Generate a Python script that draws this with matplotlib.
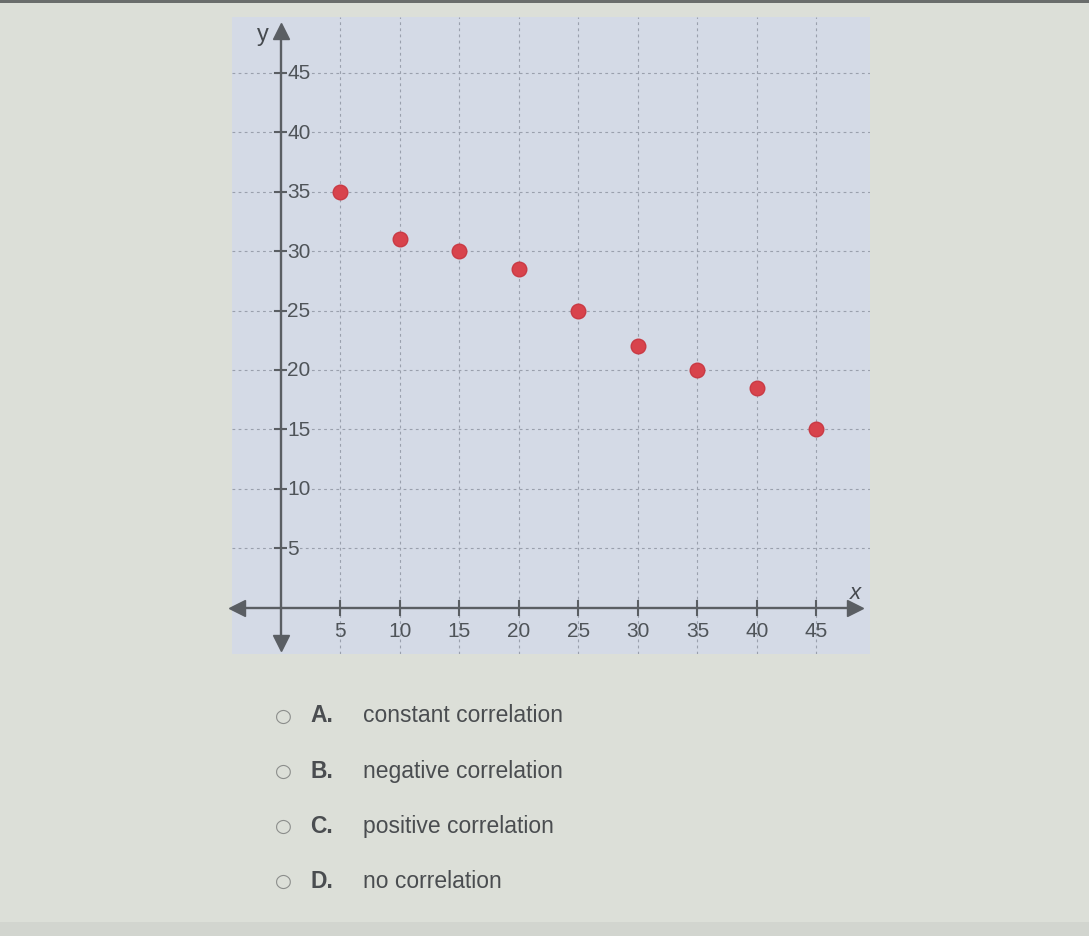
import matplotlib
matplotlib.use("Agg")
import matplotlib.pyplot as plt
from matplotlib.patches import Rectangle

plt.rcParams['font.family'] = ['Liberation Sans', 'DejaVu Sans']

x_vals = [5, 10, 15, 20, 25, 30, 35, 40, 45]
y_vals = [35, 31, 30, 28.5, 25, 22, 20, 18.5, 15]
x_ticks = [5, 10, 15, 20, 25, 30, 35, 40, 45]
y_ticks = [5, 10, 15, 20, 25, 30, 35, 40, 45]
options = [("A.", "constant correlation"),
           ("B.", "negative correlation"),
           ("C.", "positive correlation"),
           ("D.", "no correlation")]

W, H = 1089, 937
fig = plt.figure(figsize=(W / 100, H / 100), dpi=100)
fig.patch.set_facecolor("#dcdfd8")

# top dark strip and bottom band
fig.add_artist(Rectangle((0, 1 - 4 / H), 1, 4 / H, transform=fig.transFigure,
                         facecolor="#6a6d6c", edgecolor="none"))
fig.add_artist(Rectangle((0, 0), 1, 14 / H, transform=fig.transFigure,
                         facecolor="#d2d5cf", edgecolor="none"))

panel_c = "#d4dae6"
ax = fig.add_axes([232 / W, 1 - 655 / H, 638 / W, 637 / H])
ax.set_facecolor(panel_c)
ax.set_xlim(-4.1, 49.5)
ax.set_ylim(-3.9, 49.7)
for s in ax.spines.values():
    s.set_visible(False)
ax.set_xticks([])
ax.set_yticks([])

# dashed grid
for v in x_ticks:
    ax.axvline(v, color="#9aa0ad", lw=0.8, ls=(0, (2.5, 3)), zorder=1)
for v in y_ticks:
    ax.axhline(v, color="#9aa0ad", lw=0.8, ls=(0, (2.5, 3)), zorder=1)

axis_c = "#5a5e63"
lab_c = "#4f5459"
# axes lines with arrows
ax.plot([-3.5, 48.0], [0, 0], color=axis_c, lw=1.7, zorder=3)
ax.plot([-3.7], [0], marker="<", ms=12, color=axis_c, zorder=3, clip_on=False)
ax.plot([48.2], [0], marker=">", ms=12, color=axis_c, zorder=3, clip_on=False)
ax.plot([0, 0], [-2.8, 48.3], color=axis_c, lw=1.7, zorder=3)
ax.plot([0], [-3.0], marker="v", ms=12, color=axis_c, zorder=3, clip_on=False)
ax.plot([0], [48.5], marker="^", ms=12, color=axis_c, zorder=3, clip_on=False)

# ticks
for v in x_ticks:
    ax.plot([v, v], [-0.6, 0.6], color=axis_c, lw=1.5, zorder=3)
    ax.text(v, -1.95, str(v), ha="center", va="center", fontsize=15,
            color=lab_c, zorder=4)
for v in y_ticks:
    ax.plot([-0.5, 0.6], [v, v], color=axis_c, lw=1.5, zorder=3)
    ax.text(0.55, v, str(v), ha="left", va="center", fontsize=15,
            color=lab_c, zorder=4,
            bbox=dict(facecolor=panel_c, edgecolor="none", pad=0.5))

ax.text(-1.5, 48.3, "y", ha="center", va="center", fontsize=17,
        color="#45494e")
ax.text(48.3, 1.3, "x", ha="center", va="center", fontsize=16,
        style="italic", color="#45494e")

# data points
ax.plot(x_vals, y_vals, "o", ms=10.5, color="#d8434c", mec="#c93a44",
        zorder=5, ls="none")

# answer options
y0 = 716
for i, (lab, txt) in enumerate(options):
    yp = 1 - (y0 + i * 55.3) / H
    fig.text(283 / W, yp, "\u25CB", ha="center", va="center", fontsize=14,
             color="#8b8d8b", family=["DejaVu Sans"])
    fig.text(310 / W, yp, lab, ha="left", va="center", fontsize=16.5,
             color="#4a4d50", weight="bold")
    fig.text(363 / W, yp, txt, ha="left", va="center", fontsize=16.5,
             color="#4a4d50")

fig.savefig("out.png", dpi=100, facecolor=fig.get_facecolor())
